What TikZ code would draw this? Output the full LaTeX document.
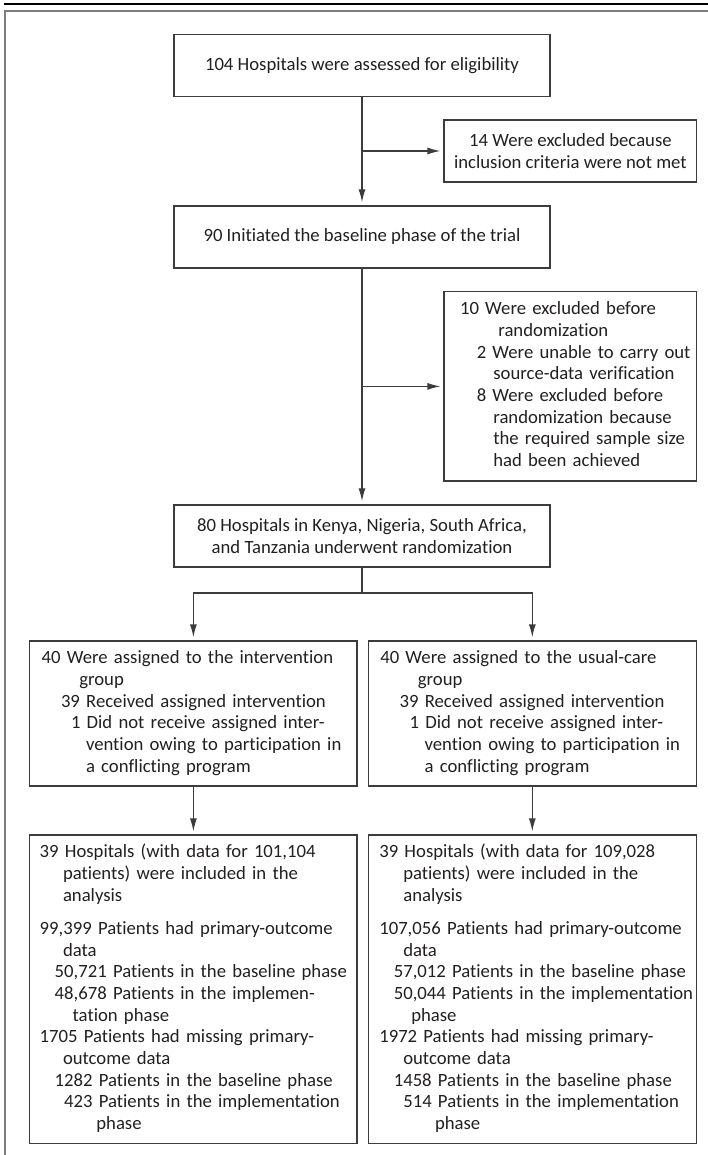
\documentclass[tikz,border=0pt]{standalone}
\usepackage{fontspec}
\setmainfont{Carlito}[Ligatures={NoCommon,NoContextual}]
\usetikzlibrary{arrows.meta}

\definecolor{ink}{RGB}{35,31,32}
\definecolor{linegray}{RGB}{60,60,60}
\definecolor{framegray}{RGB}{125,125,125}
\newcommand{\txtline}[2]{\hspace*{#1pt}\rlap{#2}\strut}

\begin{document}
\begin{tikzpicture}
  [
  x=1pt, y=-1pt,
  line width=1.3pt,
  every node/.style={text=ink, font={\fontsize{18.7pt}{21.67pt}\selectfont}},
  box/.style={rectangle, draw=linegray, inner sep=0pt},
  mainbox/.style={box, minimum width=376pt, minimum height=62pt, align=center},
  sidebox/.style={box, minimum width=252.7pt, minimum height=62pt, align=center},
  listbox/.style={box, align=left},
  arrow/.style={draw=linegray, -{Latex[length=13pt,width=7pt]}, shorten >=3pt}
  ]
  \useasboundingbox (0,0) rectangle (708,1155);
  % frame
  \draw [black, line width=1.5pt] (4,4) -- (708,4);
  \draw [framegray, line width=2pt] (4.7,1155) -- (4.7,11) -- (708,11);

  \node (hosp) at (362,65.2) [mainbox] {104 Hospitals were assessed for eligibility};
  \node (exclA) at (570.4,151) [sidebox] {14 Were excluded because\\inclusion criteria were not met};
  \node (base) at (362,237) [mainbox] {90 Initiated the baseline phase of the trial};
  \node (exclB) at (570.4,386.4) [listbox, text width=252.7pt, minimum height=189.3pt]
    {\txtline{16}{10 Were excluded before}\\
     \txtline{54.3}{randomization}\\
     \txtline{32.7}{2 Were unable to carry out}\\
     \txtline{49.3}{source-data verification}\\
     \txtline{32.7}{8 Were excluded before}\\
     \txtline{49.3}{randomization because}\\
     \txtline{49.3}{the required sample size}\\
     \txtline{49.3}{had been achieved}};
  \node (rand) at (362,535.9) [mainbox]
    {80 Hospitals in Kenya, Nigeria, South Africa,\\and Tanzania underwent randomization};

  % groups
  \node (grpL) at (193.4,713.5) [listbox, text width=327.4pt, minimum height=145pt]
    {\txtline{12}{40 Were assigned to the intervention}\\
     \txtline{49.6}{group}\\
     \txtline{31.3}{39 Received assigned intervention}\\
     \txtline{41.3}{1 Did not receive assigned inter-}\\
     \txtline{56.3}{vention owing to participation in}\\
     \txtline{56.3}{a conflicting program}};
  \node (grpR) at (532.3,713.5) [listbox, text width=328pt, minimum height=145pt]
    {\txtline{12}{40 Were assigned to the usual-care}\\
     \txtline{49.6}{group}\\
     \txtline{31.3}{39 Received assigned intervention}\\
     \txtline{41.3}{1 Did not receive assigned inter-}\\
     \txtline{56.3}{vention owing to participation in}\\
     \txtline{56.3}{a conflicting program}};

  % analysis
  \node (resL) at (193.4,989.2) [listbox, text width=327.4pt, minimum height=308.3pt]
    {\txtline{10}{39 Hospitals (with data for 101,104}\\
     \txtline{33.3}{patients) were included in the}\\
     \txtline{33.3}{analysis}\\[11.7pt]
     \txtline{10}{99,399 Patients had primary-outcome}\\
     \txtline{33.3}{data}\\
     \txtline{25}{50,721 Patients in the baseline phase}\\
     \txtline{25}{48,678 Patients in the implemen-}\\
     \txtline{43}{tation phase}\\
     \txtline{10}{1705 Patients had missing primary-}\\
     \txtline{33.3}{outcome data}\\
     \txtline{25}{1282 Patients in the baseline phase}\\
     \txtline{34.5}{423 Patients in the implementation}\\
     \txtline{66.7}{phase}};
  \node (resR) at (532.3,989.2) [listbox, text width=328pt, minimum height=308.3pt]
    {\txtline{11}{39 Hospitals (with data for 109,028}\\
     \txtline{35}{patients) were included in the}\\
     \txtline{35}{analysis}\\[11.7pt]
     \txtline{11}{107,056 Patients had primary-outcome}\\
     \txtline{35}{data}\\
     \txtline{25.5}{57,012 Patients in the baseline phase}\\
     \txtline{25.5}{50,044 Patients in the implementation}\\
     \txtline{43}{phase}\\
     \txtline{11}{1972 Patients had missing primary-}\\
     \txtline{35}{outcome data}\\
     \txtline{25.5}{1458 Patients in the baseline phase}\\
     \txtline{35}{514 Patients in the implementation}\\
     \txtline{66.7}{phase}};

  \coordinate (splitA) at (hosp.south |- exclA.west);
  \coordinate (splitB) at (base.south |- exclB.west);
  \coordinate (splitC) at (362,593);

  \draw [arrow] (hosp) to (base);
  \draw [arrow] (splitA) to (exclA);
  \draw [arrow] (base) to (rand);
  \draw [arrow] (splitB) to (exclB);
  \draw [linegray] (rand) to (splitC);
  \draw [arrow] (splitC) -| (grpL);
  \draw [arrow] (splitC) -| (grpR);
  \draw [arrow] (grpL) to (resL);
  \draw [arrow] (grpR) to (resR);
\end{tikzpicture}
\end{document}
